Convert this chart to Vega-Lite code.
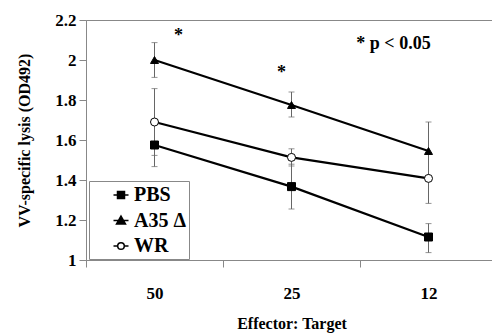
{
  "$schema": "https://vega.github.io/schema/vega-lite/v6.json",
  "width": 406,
  "height": 240,
  "autosize": {"type": "none"},
  "padding": {"left": 86, "top": 20, "right": 0, "bottom": 75},
  "config": {
    "font": "Liberation Serif",
    "view": {"stroke": "#888", "strokeWidth": 1},
    "axis": {
      "domainColor": "#888", "tickColor": "#888", "tickSize": 7, "grid": false,
      "labelFont": "Liberation Serif", "labelFontWeight": "bold", "labelColor": "black", "labelFontSize": 17,
      "titleFont": "Liberation Serif", "titleFontWeight": "bold", "titleFontSize": 16, "titleColor": "black"
    },
    "axisY": {"labelOverlap": false, "labelPadding": 3, "titlePadding": 22},
    "legend": {"title": null, "orient": "none", "legendX": 3, "legendY": 161, "padding": 3,
               "symbolOffset": 18, "labelOffset": 2, "rowPadding": 4.5, "symbolSize": 400,
               "labelFontSize": 20, "labelFont": "Liberation Serif", "labelFontWeight": "bold", "labelColor": "black",
               "symbolStrokeWidth": 1.5, "symbolOpacity": 1,
               "strokeColor": "#888", "fillColor": "white"}
  },
  "datasets": {
    "lysis": [
      {"series": "A35 Δ", "et": "50", "value": 2.0, "lo": 1.913, "hi": 2.087},
      {"series": "A35 Δ", "et": "25", "value": 1.775, "lo": 1.715, "hi": 1.84},
      {"series": "A35 Δ", "et": "12", "value": 1.545, "lo": 1.4, "hi": 1.69},
      {"series": "WR", "et": "50", "value": 1.69, "lo": 1.523, "hi": 1.857},
      {"series": "WR", "et": "25", "value": 1.513, "lo": 1.47, "hi": 1.556},
      {"series": "WR", "et": "12", "value": 1.408, "lo": 1.283, "hi": 1.533},
      {"series": "PBS", "et": "50", "value": 1.575, "lo": 1.467, "hi": 1.683},
      {"series": "PBS", "et": "25", "value": 1.367, "lo": 1.255, "hi": 1.479},
      {"series": "PBS", "et": "12", "value": 1.115, "lo": 1.037, "hi": 1.182}
    ],
    "star1": [{"et": "50", "value": 2.12, "label": "*"}],
    "star2": [{"et": "25", "value": 1.935, "label": "*"}],
    "note": [{"et": "12", "value": 2.054, "label": "* p < 0.05"}]
  },
  "encoding": {
    "x": {
      "field": "et", "type": "nominal", "title": "Effector: Target",
      "scale": {"type": "band", "domain": ["50", "25", "12"], "range": [0, 411], "paddingInner": 0, "paddingOuter": 0},
      "axis": {"labelAngle": 0, "tickBand": "extent", "labelPadding": 18, "titlePadding": 14}
    }
  },
  "layer": [
    {
      "data": {"name": "lysis"},
      "mark": {"type": "errorbar", "ticks": {"size": 6, "color": "#666"}, "rule": {"color": "#666", "strokeWidth": 1}},
      "encoding": {
        "y": {"field": "lo", "type": "quantitative", "title": "VV-specific lysis (OD492)",
              "scale": {"domain": [1, 2.2], "nice": false, "zero": false},
              "axis": {"values": [1, 1.2, 1.4, 1.6, 1.8, 2, 2.2], "format": "~g"}},
        "y2": {"field": "hi"},
        "detail": {"field": "series"}
      }
    },
    {
      "data": {"name": "lysis"},
      "mark": {"type": "line", "color": "black", "strokeWidth": 2.2},
      "encoding": {
        "y": {"field": "value", "type": "quantitative", "title": "VV-specific lysis (OD492)",
              "axis": {"values": [1, 1.2, 1.4, 1.6, 1.8, 2, 2.2], "format": "~g"}},
        "detail": {"field": "series"}
      }
    },
    {
      "data": {"name": "lysis"},
      "mark": {"type": "point", "stroke": "black", "strokeWidth": 1, "size": 64, "fillOpacity": 1, "opacity": 1},
      "encoding": {
        "y": {"field": "value", "type": "quantitative", "title": "VV-specific lysis (OD492)",
              "axis": {"values": [1, 1.2, 1.4, 1.6, 1.8, 2, 2.2], "format": "~g"}},
        "shape": {"condition": [{"test": "datum.series === 'PBS'", "value": "square"},
                                {"test": "datum.series === 'WR'", "value": "circle"}],
                  "value": "triangle-up"},
        "fill": {"condition": [{"test": "datum.series === 'WR'", "value": "white"}], "value": "black"}
      }
    },
    {
      "data": {"name": "lysis"},
      "mark": {"type": "point", "opacity": 0, "size": 400, "strokeWidth": 1.5},
      "encoding": {
        "y": {"field": "value", "type": "quantitative", "title": "VV-specific lysis (OD492)",
              "axis": {"values": [1, 1.2, 1.4, 1.6, 1.8, 2, 2.2], "format": "~g"}},
        "shape": {"field": "series", "type": "nominal",
                  "scale": {"domain": ["PBS", "A35 Δ", "WR"], "range": [
                    "M-0.75,0L0.75,0M-0.35,-0.35L0.35,-0.35L0.35,0.35L-0.35,0.35Z",
                    "M-0.75,0L0.75,0M0,-0.45L0.45,0.35L-0.45,0.35Z",
                    "M-0.75,0L-0.33,0M0.33,0L0.75,0M0.33,0A0.33,0.33 0 1,1 -0.33,0A0.33,0.33 0 1,1 0.33,0Z"]},
                  "legend": {"symbolSize": 400, "symbolOpacity": 1}},
        "fill": {"field": "series", "type": "nominal",
                 "scale": {"domain": ["PBS", "A35 Δ", "WR"], "range": ["black", "black", "white"]},
                 "legend": {"symbolSize": 400, "symbolOpacity": 1}},
        "stroke": {"field": "series", "type": "nominal",
                   "scale": {"domain": ["PBS", "A35 Δ", "WR"], "range": ["black", "black", "black"]},
                   "legend": {"symbolSize": 400, "symbolOpacity": 1}}
      }
    },
    {
      "data": {"name": "star1"},
      "mark": {"type": "text", "dx": 24, "fontSize": 18, "fontWeight": "bold", "font": "Liberation Serif", "baseline": "middle", "color": "black"},
      "encoding": {"y": {"field": "value", "type": "quantitative", "title": "VV-specific lysis (OD492)",
                         "axis": {"values": [1, 1.2, 1.4, 1.6, 1.8, 2, 2.2], "format": "~g"}}, "text": {"field": "label"}}
    },
    {
      "data": {"name": "star2"},
      "mark": {"type": "text", "dx": -10, "fontSize": 18, "fontWeight": "bold", "font": "Liberation Serif", "baseline": "middle", "color": "black"},
      "encoding": {"y": {"field": "value", "type": "quantitative", "title": "VV-specific lysis (OD492)",
                         "axis": {"values": [1, 1.2, 1.4, 1.6, 1.8, 2, 2.2], "format": "~g"}}, "text": {"field": "label"}}
    },
    {
      "data": {"name": "note"},
      "mark": {"type": "text", "dx": -35, "fontSize": 18, "fontWeight": "bold", "font": "Liberation Serif", "baseline": "alphabetic", "color": "black"},
      "encoding": {"y": {"field": "value", "type": "quantitative", "title": "VV-specific lysis (OD492)",
                         "axis": {"values": [1, 1.2, 1.4, 1.6, 1.8, 2, 2.2], "format": "~g"}}, "text": {"field": "label"}}
    }
  ]
}
